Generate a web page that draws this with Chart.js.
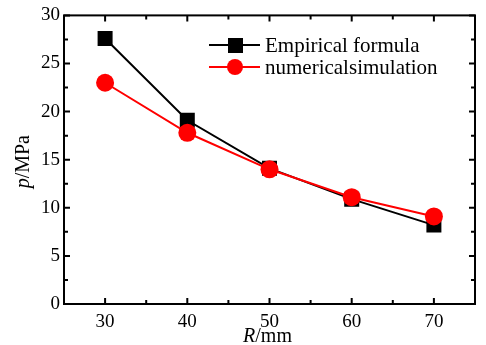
<!DOCTYPE html>
<html>
<head>
<meta charset="utf-8">
<script src="https://cdn.jsdelivr.net/npm/chart.js@4.4.1/dist/chart.umd.min.js"></script>
<style>
  html, body { margin: 0; padding: 0; background: #fff; }
  #wrap { width: 486px; height: 345px; }
</style>
</head>
<body>
<div id="wrap"><canvas id="chart" width="486" height="345"></canvas></div>
<script>
// data
const radius = [30, 40, 50, 60, 70];
const empirical = [27.6, 19.1, 14.1, 10.9, 8.2];
const numerical = [23.0, 17.8, 14.0, 11.1, 9.1];
const xTicks = [30, 40, 50, 60, 70];
const yTicks = [0, 5, 10, 15, 20, 25, 30];
const seriesNames = ['Empirical formula', 'numericalsimulation'];

const serif = '"Liberation Serif", "Times New Roman", serif';

// frame + inward tick marks
const framePlugin = {
  id: 'frame',
  afterDraw(chart) {
    const { ctx, chartArea: a, scales } = chart;
    ctx.save();
    ctx.strokeStyle = '#000';
    ctx.lineWidth = 2;
    ctx.strokeRect(a.left, a.top, a.right - a.left, a.bottom - a.top);
    ctx.beginPath();
    // y ticks, major every 5, minor every 2.5
    for (let v = 0; v <= 30; v += 2.5) {
      const y = scales.y.getPixelForValue(v);
      const len = v % 5 === 0 ? 6 : 4;
      ctx.moveTo(a.left, y); ctx.lineTo(a.left + len, y);
      ctx.moveTo(a.right, y); ctx.lineTo(a.right - len, y);
    }
    // x ticks, major every 10, minor every 5
    for (let v = 30; v <= 70; v += 5) {
      const x = scales.x.getPixelForValue(v);
      const len = v % 10 === 0 ? 6 : 4;
      ctx.moveTo(x, a.bottom); ctx.lineTo(x, a.bottom - len);
      ctx.moveTo(x, a.top); ctx.lineTo(x, a.top + len);
    }
    ctx.stroke();

    // axis titles with italic symbol
    ctx.fillStyle = '#000';
    ctx.textBaseline = 'alphabetic';
    const drawTitle = (sym, rest, cx, cy, rot) => {
      ctx.save();
      ctx.translate(cx, cy);
      ctx.rotate(rot);
      ctx.font = 'italic 20px ' + serif;
      const w1 = ctx.measureText(sym).width;
      ctx.font = '20px ' + serif;
      const w2 = ctx.measureText(rest).width;
      const x0 = -(w1 + w2) / 2;
      ctx.font = 'italic 20px ' + serif;
      ctx.fillText(sym, x0, 7);
      ctx.font = '20px ' + serif;
      ctx.fillText(rest, x0 + w1, 7);
      ctx.restore();
    };
    drawTitle('R', '/mm', (a.left + a.right) / 2 - 2, 335, 0);
    drawTitle('p', '/MPa', 22, (a.top + a.bottom) / 2 + 2, -Math.PI / 2);

    // legend
    const items = [
      { label: seriesNames[0], color: '#000', style: 'square' },
      { label: seriesNames[1], color: '#ff0000', style: 'circle' }
    ];
    ctx.font = '21px ' + serif;
    ctx.textBaseline = 'middle';
    items.forEach((it, i) => {
      const y = 45 + i * 22;
      ctx.strokeStyle = it.color;
      ctx.fillStyle = it.color;
      ctx.lineWidth = 2;
      ctx.beginPath();
      ctx.moveTo(209, y); ctx.lineTo(260, y);
      ctx.stroke();
      if (it.style === 'square') {
        ctx.fillRect(228, y - 7, 15, 15);
      } else {
        ctx.beginPath();
        ctx.arc(235, y, 8, 0, Math.PI * 2);
        ctx.fill();
      }
      ctx.fillStyle = '#000';
      ctx.fillText(it.label, 265, y + 1);
    });
    ctx.restore();
  }
};

new Chart(document.getElementById('chart'), {
  type: 'line',
  data: {
    labels: radius,
    datasets: [
      {
        label: seriesNames[0],
        data: radius.map((r, i) => ({ x: r, y: empirical[i] })),
        borderColor: '#000',
        backgroundColor: '#000',
        borderWidth: 2,
        pointStyle: 'rect',
        pointRadius: 10.6,
        pointBorderWidth: 0,
        order: 2
      },
      {
        label: seriesNames[1],
        data: radius.map((r, i) => ({ x: r, y: numerical[i] })),
        borderColor: '#ff0000',
        backgroundColor: '#ff0000',
        borderWidth: 2,
        pointStyle: 'circle',
        pointRadius: 9,
        pointBorderWidth: 0,
        order: 1
      }
    ]
  },
  options: {
    responsive: false,
    animation: false,
    layout: { padding: { top: 13, right: 11, left: 0, bottom: 0 } },
    plugins: {
      legend: { display: false },
      tooltip: { enabled: false }
    },
    scales: {
      x: {
        type: 'linear',
        min: 25,
        max: 75,
        afterFit: s => { s.height = 41; },
        afterBuildTicks: s => { s.ticks = xTicks.map(v => ({ value: v })); },
        grid: { display: false, drawTicks: false },
        border: { display: false },
        ticks: { color: '#000', padding: 7, font: { family: serif, size: 19 } }
      },
      y: {
        min: 0,
        max: 30,
        afterFit: s => { s.width = 64; },
        afterBuildTicks: s => { s.ticks = yTicks.map(v => ({ value: v })); },
        grid: { display: false, drawTicks: false },
        border: { display: false },
        ticks: { color: '#000', padding: 4, font: { family: serif, size: 19 } }
      }
    }
  },
  plugins: [framePlugin]
});
</script>
</body>
</html>
